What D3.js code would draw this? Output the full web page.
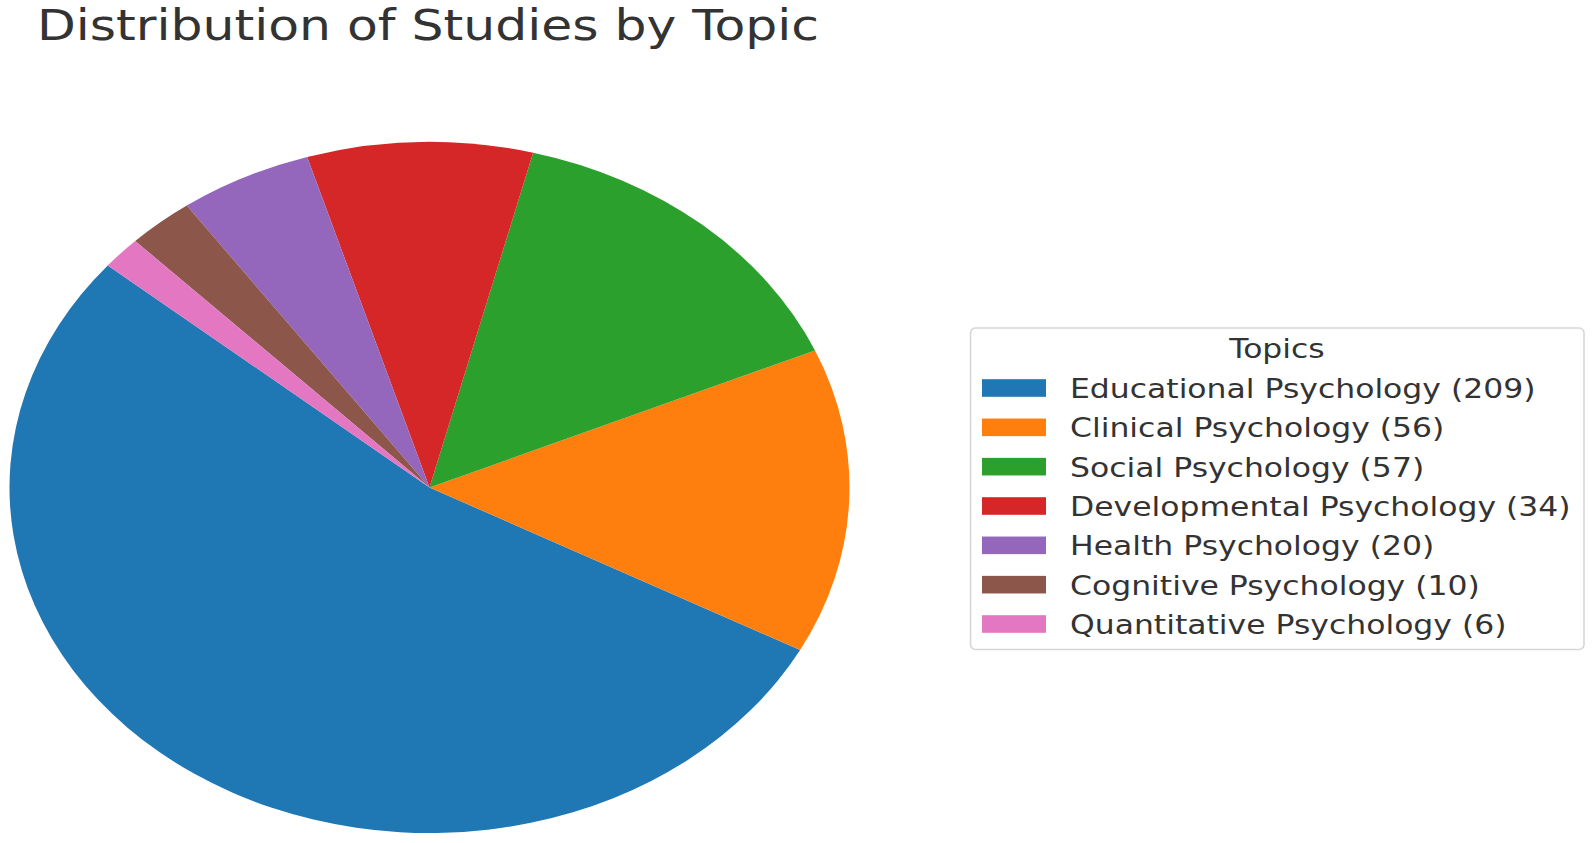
<!DOCTYPE html>
<html>
<head>
<meta charset="utf-8">
<script src="https://cdn.jsdelivr.net/npm/d3@7"></script>
<style>
  body { margin: 0; background: #fff; }
  svg { display: block; font-family: 'DejaVu Sans', sans-serif; }
</style>
</head>
<body>
<svg id="chart" width="1595" height="843"></svg>
<script>
// data
const topics = ['Educational Psychology', 'Clinical Psychology', 'Social Psychology',
  'Developmental Psychology', 'Health Psychology', 'Cognitive Psychology', 'Quantitative Psychology']
const counts = [209, 56, 57, 34, 20, 10, 6]
const colors = ['#1f77b4', '#ff7f0e', '#2ca02c', '#d62728', '#9467bd', '#8c564b', '#e377c2']

const svg = d3.select('#chart')
const stretch = 1.21 // the figure is stretched sideways

// title
svg.append('text')
  .attr('transform', `translate(37,40) scale(1.2,1)`)
  .attr('font-size', '42px')
  .attr('fill', '#333')
  .text('Distribution of Studies by Topic')

// pie: start at 140deg, counter-clockwise (as matplotlib)
const cx = 429.5, cy = 487.5, rx = 420, ry = 345.5
const start = (90 - 140) * Math.PI / 180
const pie = d3.pie().sort(null).startAngle(start).endAngle(start - 2 * Math.PI)
const arc = d3.arc().innerRadius(0).outerRadius(ry)

const g = svg.append('g').attr('transform', `translate(${cx},${cy}) scale(${rx / ry},1)`)
g.selectAll('path')
  .data(pie(counts))
  .enter()
  .append('path')
  .attr('d', arc)
  .attr('fill', (d, i) => colors[i])

// legend
const legend = svg.append('g')
legend.append('rect')
  .attr('x', 970.5).attr('y', 328)
  .attr('width', 613.5).attr('height', 321.5)
  .attr('rx', 5)
  .attr('fill', '#fff')
  .attr('stroke', '#d6d6d6')
  .attr('stroke-width', 1.6)

legend.append('text')
  .attr('transform', `translate(1277,358) scale(${stretch},1)`)
  .attr('text-anchor', 'middle')
  .attr('font-size', '26px')
  .attr('fill', '#333')
  .text('Topics')

const rowY = d3.scaleLinear().domain([0, topics.length - 1]).range([388, 624])

const items = legend.selectAll('.item')
  .data(topics)
  .enter()
  .append('g')
  .attr('class', 'item')
  .attr('transform', (d, i) => `translate(0,${rowY(i)})`)

items.append('rect')
  .attr('x', 982).attr('y', -8.8)
  .attr('width', 64).attr('height', 17.6)
  .attr('fill', (d, i) => colors[i])

items.append('text')
  .attr('transform', `translate(1070,10) scale(${stretch},1)`)
  .attr('font-size', '26px')
  .attr('fill', '#333')
  .text((d, i) => `${d} (${counts[i]})`)
</script>
</body>
</html>
